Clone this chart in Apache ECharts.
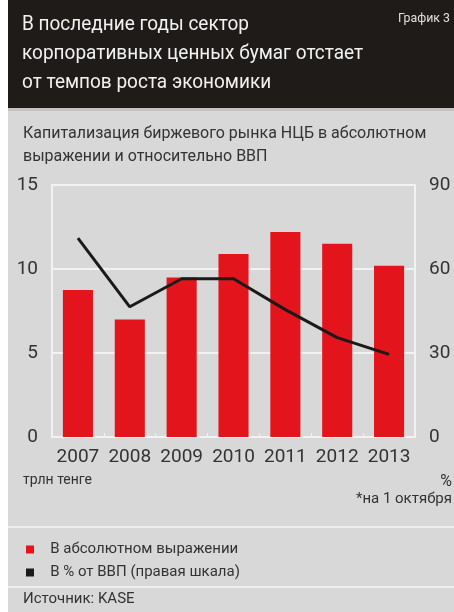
<!DOCTYPE html>
<html><head><meta charset="utf-8">
<script src="https://cdn.jsdelivr.net/npm/echarts@6/dist/echarts.min.js"></script>
<style>html,body{margin:0;padding:0;background:#fff}#c{width:454px;height:612px}</style>
</head><body><div id="c"></div>
<script>
const categories = ['2007','2008','2009','2010','2011','2012','2013'];
const absValues = [8.75, 7.0, 9.5, 10.9, 12.2, 11.5, 10.2];
const gdpShare = [71, 46.5, 56.5, 56.5, 45.5, 35.5, 29.5];
const leftTicks = {min:0, max:15, interval:5};
const rightTicks = {min:0, max:90, interval:30};

const F = 'Roboto, "Liberation Sans", Arial, sans-serif';
const chart = echarts.init(document.getElementById('c'));
chart.setOption({
  backgroundColor: '#fff',
  animation: false,
  graphic: [
    {type:'rect', z:-10, shape:{x:8,y:0,width:446,height:612}, style:{fill:'#d8d8d8'}},
    {type:'rect', z:-9, shape:{x:8,y:0,width:446,height:108}, style:{fill:'#1f1b19'}},
    {type:'rect', z:-9, shape:{x:8,y:108,width:446,height:3}, style:{fill:'#c4c4c4'}},
    {type:'text', x:22, y:10, scaleX:0.95, style:{text:'В последние годы сектор\nкорпоративных ценных бумаг отстает\nот темпов роста экономики', fill:'#f2f2f2', font:'20px '+F, lineHeight:29}},
    {type:'text', x:450, y:12, scaleX:0.95, style:{text:'График 3', fill:'#e0e0e0', font:'13px '+F, textAlign:'right'}},
    {type:'text', x:23, y:122, style:{text:'Капитализация биржевого рынка НЦБ в абсолютном\nвыражении и относительно ВВП', fill:'#333', font:'16px '+F, lineHeight:23}},
    {type:'text', x:23, y:473, style:{text:'трлн тенге', fill:'#333', font:'14px '+F}},
    {type:'text', x:452, y:474, style:{text:'%', fill:'#333', font:'16px '+F, textAlign:'right'}},
    {type:'text', x:452, y:492, style:{text:'*на 1 октября', fill:'#333', font:'15px '+F, textAlign:'right'}},
    {type:'rect', shape:{x:8,y:526,width:446,height:2}, style:{fill:'#eeeeee'}},
    {type:'rect', shape:{x:8,y:586,width:446,height:2}, style:{fill:'#eeeeee'}},
    {type:'text', x:23, y:592, style:{text:'Источник: KASE', fill:'#333', font:'15px '+F}}
  ],
  legend: {
    orient:'vertical', left:21, top:537, itemWidth:8, itemHeight:8, itemGap:8,
    icon:'rect',
    formatter: function(n){ return '   ' + n; },
    textStyle:{fontFamily:F, fontSize:15, color:'#333'},
    data:[{name:'В абсолютном выражении', itemStyle:{color:'#e3141c'}},{name:'В % от ВВП (правая шкала)', itemStyle:{color:'#1a1a1a'}}]
  },
  grid: {left:52, right:39, top:185, bottom:175},
  xAxis: {
    type:'category', data:categories,
    axisLine:{show:true, lineStyle:{color:'#f2f2f2', width:2}},
    axisTick:{show:true, inside:true, length:4, lineStyle:{color:'#f2f2f2'}},
    axisLabel:{fontFamily:F, fontSize:19, color:'#333', margin:11, interval:0}
  },
  yAxis: [
    {type:'value', min:leftTicks.min, max:leftTicks.max, interval:leftTicks.interval,
     axisLine:{show:true, lineStyle:{color:'#f2f2f2', width:2}}, axisTick:{show:false},
     splitLine:{lineStyle:{color:'#f2f2f2', width:2}},
     axisLabel:{fontFamily:F, fontSize:19, color:'#333', margin:14}},
    {type:'value', min:rightTicks.min, max:rightTicks.max, interval:rightTicks.interval,
     axisLine:{show:true, lineStyle:{color:'#f2f2f2', width:2}}, axisTick:{show:false},
     splitLine:{show:false},
     axisLabel:{fontFamily:F, fontSize:19, color:'#333', margin:14}}
  ],
  series: [
    {name:'В абсолютном выражении', type:'bar', data:absValues, barWidth:'58%', itemStyle:{color:'#e3141c'}},
    {name:'В % от ВВП (правая шкала)', type:'line', yAxisIndex:1, data:gdpShare, symbol:'none', lineStyle:{color:'#1a1a1a', width:3}, itemStyle:{color:'#1a1a1a'}}
  ]
});
</script></body></html>
